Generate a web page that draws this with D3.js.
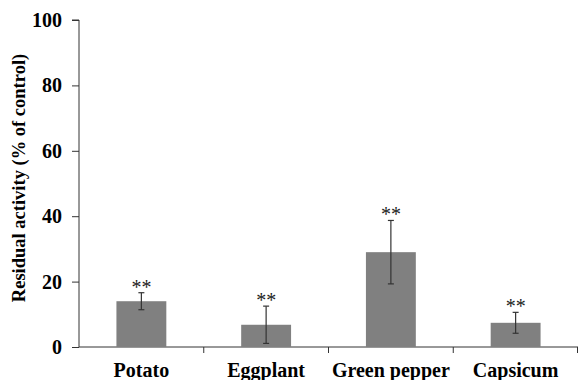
<!DOCTYPE html>
<html>
<head>
<meta charset="utf-8">
<script src="https://cdn.jsdelivr.net/npm/d3@7"></script>
<style>
  body { margin: 0; background: #fff; }
  svg text { font-family: "Liberation Serif", "Times New Roman", serif; }
</style>
</head>
<body>
<div class="chart"></div>
<script>
var categories = ["Potato", "Eggplant", "Green pepper", "Capsicum"];
var values = [14, 6.8, 29, 7.4];
var errors = [2.6, 5.7, 9.7, 3.2];
var marks = ["**", "**", "**", "**"];
var yTicks = [0, 20, 40, 60, 80, 100];

var width = 579, height = 380;
var margin = {top: 20, right: 1, bottom: 33, left: 79};

var x = d3.scaleBand()
  .domain(categories)
  .range([margin.left, width - margin.right])
  .paddingInner(0.6)
  .paddingOuter(0.3);

var y = d3.scaleLinear()
  .domain([0, 100])
  .range([height - margin.bottom, margin.top]);

var svg = d3.select(".chart").append("svg")
  .attr("width", width)
  .attr("height", height);

// y axis
var gY = svg.append("g")
  .attr("transform", `translate(${margin.left},0)`)
  .call(d3.axisLeft(y).tickValues(yTicks).tickSize(7).tickPadding(10));
gY.select(".domain").attr("d", `M-7,${y(100)}H0V${y(0)}`);
gY.selectAll("line, path").attr("stroke", "#333");
gY.selectAll("text")
  .style("font-size", "20px")
  .style("font-weight", "bold")
  .attr("fill", "#000");

// x axis with tick marks between categories
var xAxisY = y(0);
var step = x.step();
var bounds = categories.map((c, i) => margin.left + step * (i + 1));
var gX = svg.append("g");
gX.append("line")
  .attr("x1", margin.left).attr("x2", width - margin.right)
  .attr("y1", xAxisY).attr("y2", xAxisY)
  .attr("stroke", "#333");
gX.selectAll(".sep")
  .data(bounds)
  .enter().append("line")
    .attr("x1", d => Math.min(d, width - 1.5)).attr("x2", d => Math.min(d, width - 1.5))
    .attr("y1", xAxisY).attr("y2", xAxisY + 6)
    .attr("stroke", "#333");
gX.selectAll(".cat")
  .data(categories)
  .enter().append("text")
    .attr("x", d => x(d) + x.bandwidth() / 2)
    .attr("y", xAxisY + 30)
    .attr("text-anchor", "middle")
    .style("font-size", "20px")
    .style("font-weight", "bold")
    .text(d => d);

// bars
svg.selectAll(".bar")
  .data(categories)
  .enter().append("rect")
    .attr("x", d => x(d))
    .attr("y", (d, i) => y(values[i]))
    .attr("width", x.bandwidth())
    .attr("height", (d, i) => y(0) - y(values[i]))
    .attr("fill", "#808080");

// error bars
var eb = svg.selectAll(".err")
  .data(categories)
  .enter().append("g")
    .attr("stroke", "#333")
    .attr("stroke-width", 1.2);
eb.append("line")
  .attr("x1", d => x(d) + x.bandwidth() / 2).attr("x2", d => x(d) + x.bandwidth() / 2)
  .attr("y1", (d, i) => y(values[i] + errors[i]))
  .attr("y2", (d, i) => y(values[i] - errors[i]));
eb.append("line")
  .attr("x1", d => x(d) + x.bandwidth() / 2 - 3).attr("x2", d => x(d) + x.bandwidth() / 2 + 3)
  .attr("y1", (d, i) => y(values[i] + errors[i]))
  .attr("y2", (d, i) => y(values[i] + errors[i]));
eb.append("line")
  .attr("x1", d => x(d) + x.bandwidth() / 2 - 3).attr("x2", d => x(d) + x.bandwidth() / 2 + 3)
  .attr("y1", (d, i) => y(values[i] - errors[i]))
  .attr("y2", (d, i) => y(values[i] - errors[i]));

// significance marks
svg.selectAll(".sig")
  .data(categories)
  .enter().append("text")
    .attr("x", d => x(d) + x.bandwidth() / 2)
    .attr("y", (d, i) => y(values[i] + errors[i]) + 1)
    .attr("text-anchor", "middle")
    .attr("fill", "#222")
    .style("font-size", "20px")
    .text((d, i) => marks[i]);

// y title
svg.append("text")
  .attr("transform", `translate(25, 178) rotate(-90)`)
  .attr("text-anchor", "middle")
  .style("font-size", "18.5px")
  .style("font-weight", "bold")
  .text("Residual activity (% of control)");
</script>
</body>
</html>
